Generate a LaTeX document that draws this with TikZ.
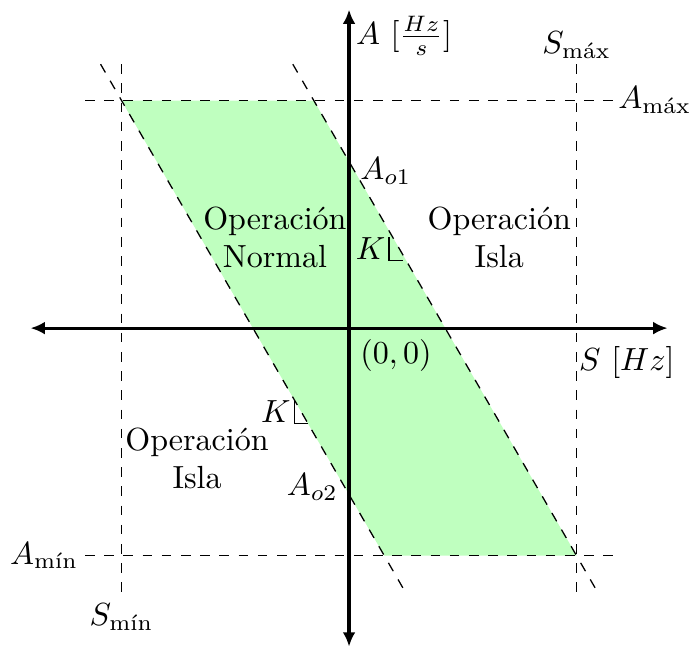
\documentclass[tikz,border=0pt]{standalone}
\usepackage{amsmath}
\usepackage{tikz}
\usetikzlibrary{arrows.meta,positioning,calc}

\begin{document}
\begin{tikzpicture}[x=0.5cm, y=0.5cm, guide/.style={dashed, thin},
    axis/.style={line width=1pt, {Latex[length=4.5pt,width=4pt]}-{Latex[length=4.5pt,width=4pt]}}]
    \useasboundingbox (-7.67,-7.05) rectangle (7.47,7.21);
    % corners of the operating region
    \coordinate (tl) at (-5,5);
    \coordinate (tr) at (-0.774,5);
    \coordinate (br) at (5,-5);
    \coordinate (bl) at (0.774,-5);
    \fill[green!25] (tl) -- (tr) -- (br) -- (bl) -- cycle;

    % limits
    \coordinate (smint) at (-5,5.8);  \coordinate (sminb) at (-5,-5.8);
    \coordinate (smaxt) at (5,5.8);   \coordinate (smaxb) at (5,-5.8);
    \coordinate (amaxl) at (-5.8,5);  \coordinate (amaxr) at (5.8,5);
    \coordinate (aminl) at (-5.8,-5); \coordinate (aminr) at (5.8,-5);
    \draw[guide] (smint) -- (sminb);
    \draw[guide] (smaxt) -- (smaxb);
    \draw[guide] (amaxl) -- (amaxr);
    \draw[guide] (aminl) -- (aminr);
    \node[below] (smin) at (sminb) {$S_{\text{mín}}$};
    \node[above, inner sep=1.5pt] (smax) at (smaxt) {$S_{\text{máx}}$};
    \node[right, inner sep=1.5pt] (amax) at (amaxr) {$A_{\text{máx}}$};
    \node[left, inner sep=2pt] (amin) at (aminl) {$A_{\text{mín}}$};

    % slanted borders
    \coordinate (l1) at (-5.46,5.8);  \coordinate (l2) at (1.236,-5.8);
    \coordinate (r1) at (-1.236,5.8); \coordinate (r2) at (5.46,-5.8);
    \draw[guide] (l1) -- (l2);
    \draw[guide] (r1) -- (r2);

    % axes
    \coordinate (xw) at (-7,0); \coordinate (xe) at (7,0);
    \coordinate (ys) at (0,-7); \coordinate (yn) at (0,7);
    \draw[axis] (xw) -- (xe);
    \draw[axis] (ys) -- (yn);
    \node[anchor=north west, inner sep=2pt] (alab) at (yn) {$A\ [\frac{Hz}{s}]$};
    \node[anchor=north east] (slab) at (7.4,-0.15) {$S\ [Hz]$};
    \node[below right] (orig) at (0,0) {$(0,0)$};
    \node[right] (ao1) at (0,3.45) {$A_{o1}$};
    \node[left] (ao2) at (0,-3.5) {$A_{o2}$};

    % slopes
    \coordinate (k1) at (0.88,2.0);
    \draw (k1) -- ++(0,-0.52) coordinate (k1b) -- ++(0.3,0);
    \node[left, inner sep=1pt] (k1lab) at ($(k1)!0.5!(k1b)$) {$K$};
    \coordinate (k2) at (-1.2,-1.58);
    \draw (k2) -- ++(0,-0.52) coordinate (k2b) -- ++(0.3,0);
    \node[left, inner sep=1pt] (k2lab) at ($(k2)!0.5!(k2b)$) {$K$};

    % regions
    \node[align=center] (normal) at (-1.63,2.0) {Operación\\Normal};
    \node[align=center] (isla1) at (3.3,2.0) {Operación\\Isla};
    \node[align=center] (isla2) at (-3.34,-2.86) {Operación\\Isla};
  \end{tikzpicture}
\end{document}
